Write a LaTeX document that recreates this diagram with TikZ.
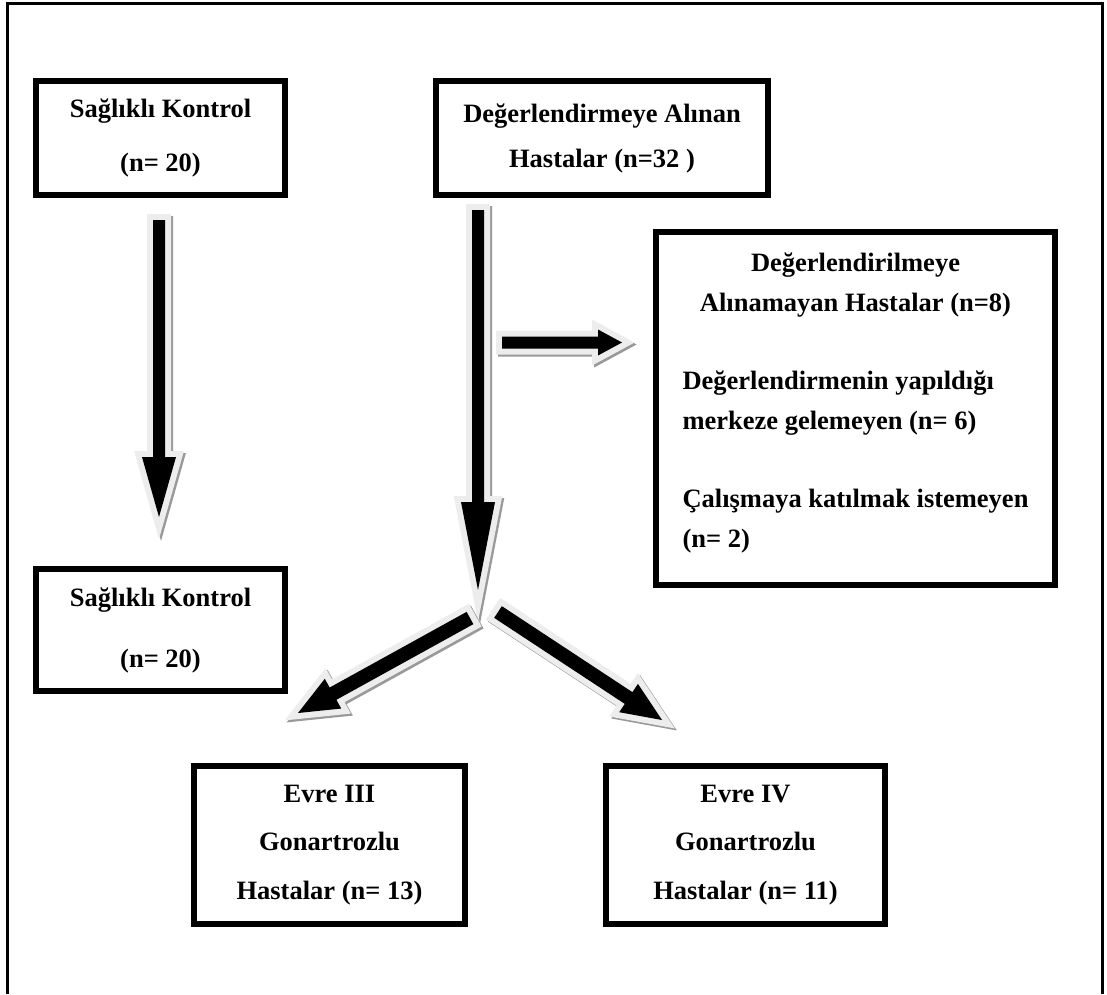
\documentclass[tikz,border=0pt]{standalone}
\usepackage{fontspec}
\setmainfont{Liberation Serif}
\usetikzlibrary{calc}
\usetikzlibrary{positioning}
\tikzset{>=latex}
\tikzset{kutu/.style = {draw, line width=6pt, inner sep=0pt}}
\tikzset{okgolge/.style = {draw=black!40, fill=black!40, line width=12pt, line join=miter, transform canvas={shift={(2,2)}}}}
\tikzset{okhale/.style = {draw=black!7, fill=black!7, line width=12pt, line join=miter}}
\newcommand{\yazi}[1]{\fontsize{26.5}{#1}\selectfont\bfseries}
% block arrow: tail, tip, half shaft, half head, head length
\newcommand{\blokok}[5]{%
  \coordinate (bh) at ($(#2)!#5!(#1)$);
  \def\okyolu{($(#1)!#3!90:(#2)$) -- ($(bh)!#3!90:(#2)$) -- ($(bh)!#4!90:(#2)$) -- (#2) -- ($(bh)!#4!-90:(#2)$) -- ($(bh)!#3!-90:(#2)$) -- ($(#1)!#3!-90:(#2)$) -- cycle}%
  \draw[okgolge] \okyolu;
  \draw[okhale] \okyolu;
  \fill[black] \okyolu;
}
\begin{document}
\begin{tikzpicture}[x=1pt, y=-1pt]
\useasboundingbox (0,0) rectangle (1107,994);
\draw[line width=3pt] (7,994) -- (7,3.5) -- (1102.5,3.5) -- (1102.5,994);

\node [kutu, align=center, font=\yazi{54}, minimum width=249pt, minimum height=114pt] (kontrol1) at (160.5,138) {Sağlıklı Kontrol\\(n= 20)};
\node [kutu, align=center, font=\yazi{45}, minimum width=332pt, minimum height=114pt] (alinan) at (602,138) {Değerlendirmeye Alınan\\Hastalar (n=32 )};
\node [kutu, font=\yazi{40}, minimum width=399pt, minimum height=353pt] (alinamayan) at (855.5,408.5) {%
\begin{tabular}{@{}l@{}}
\multicolumn{1}{@{}c@{}}{Değerlendirilmeye}\\
\multicolumn{1}{@{}c@{}}{Alınamayan Hastalar (n=8)}\\[38pt]
Değerlendirmenin yapıldığı\\
merkeze gelemeyen (n= 6)\\[38pt]
Çalışmaya katılmak istemeyen\\
(n= 2)\\[15pt]
\end{tabular}};
\node [kutu, align=center, font=\yazi{61}, minimum width=249pt, minimum height=122pt] (kontrol2) at (160.5,630) {Sağlıklı Kontrol\\(n= 20)};
\node [kutu, align=center, font=\yazi{48.5}, minimum width=271pt, minimum height=158pt] (evre3) at (329.5,845) {Evre III\\Gonartrozlu\\Hastalar (n= 13)};
\node [kutu, align=center, font=\yazi{48.5}, minimum width=279pt, minimum height=158pt] (evre4) at (745.5,845) {Evre IV\\Gonartrozlu\\Hastalar (n= 11)};

\coordinate (solbas) at (159,220);
\coordinate (soluc) at (159,517);
\coordinate (ortabas) at (478,210);
\coordinate (ortauc) at (478,590);
\coordinate (yanbas) at (502,342.5);
\coordinate (yanuc) at (622,342.5);
\coordinate (dalsolbas) at (470,618);
\coordinate (dalsoluc) at (298,713);
\coordinate (dalsagbas) at (498,612);
\coordinate (dalsaguc) at (662,720);

\blokok{solbas}{soluc}{6pt}{17pt}{60pt}
\blokok{ortabas}{ortauc}{6pt}{17pt}{88pt}
\blokok{yanbas}{yanuc}{6pt}{13pt}{24pt}
\blokok{dalsolbas}{dalsoluc}{7pt}{17pt}{40pt}
\blokok{dalsagbas}{dalsaguc}{7pt}{17pt}{40pt}
\end{tikzpicture}
\end{document}
